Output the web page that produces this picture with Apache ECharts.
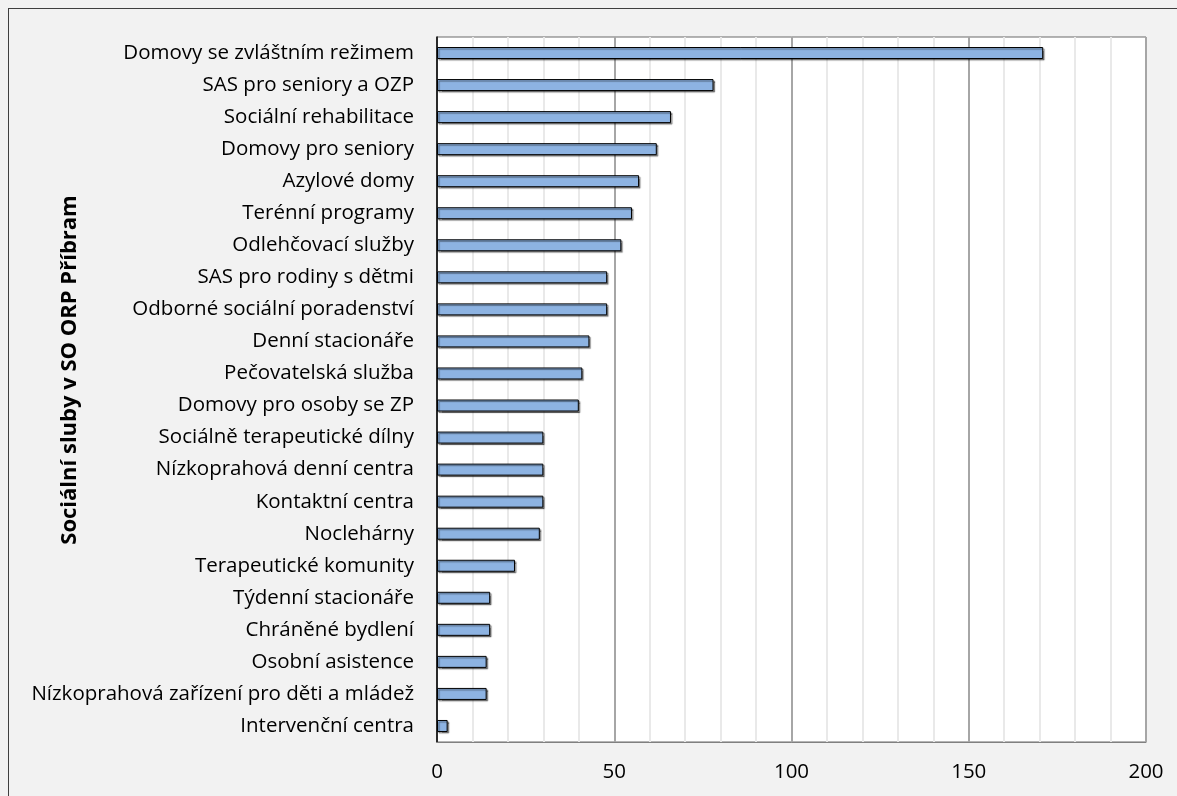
<!DOCTYPE html>
<html>
<head>
<meta charset="utf-8">
<script src="https://cdn.jsdelivr.net/npm/echarts@6/dist/echarts.min.js"></script>
<style>
  html, body { margin: 0; padding: 0; background: #f2f2f2; overflow: hidden; }
  #frame { position: absolute; left: 8px; top: 8px; width: 2000px; height: 2000px; border: 1px solid #3f3f3f; }
  #chart { position: absolute; left: 0; top: 0; width: 1177px; height: 796px; }
</style>
</head>
<body>
<div id="frame"></div>
<div id="chart"></div>
<script>
// data, top to bottom
const categories = [
  'Domovy se zvláštním režimem',
  'SAS pro seniory a OZP',
  'Sociální rehabilitace',
  'Domovy pro seniory',
  'Azylové domy',
  'Terénní programy',
  'Odlehčovací služby',
  'SAS pro rodiny s dětmi',
  'Odborné sociální poradenství',
  'Denní stacionáře',
  'Pečovatelská služba',
  'Domovy pro osoby se ZP',
  'Sociálně terapeutické dílny',
  'Nízkoprahová denní centra',
  'Kontaktní centra',
  'Noclehárny',
  'Terapeutické komunity',
  'Týdenní stacionáře',
  'Chráněné bydlení',
  'Osobní asistence',
  'Nízkoprahová zařízení pro děti a mládež',
  'Intervenční centra'
];
const values = [171, 78, 66, 62, 57, 55, 52, 48, 48, 43, 41, 40, 30, 30, 30, 29, 22, 15, 15, 14, 14, 3];
const axisTitle = 'Sociální sluby v SO ORP Příbram';
const xMin = 0, xMax = 200, xStep = 50;

const font = '"Open Sans", "Noto Sans", sans-serif';
const chart = echarts.init(document.getElementById('chart'));

chart.setOption({
  backgroundColor: 'transparent',
  animation: false,
  grid: {
    left: 437, right: 31, top: 37, bottom: 54,
    outerBoundsMode: 'none',
    show: true,
    backgroundColor: '#ffffff',
    borderColor: '#6b6b6b',
    borderWidth: 1
  },
  // rotated axis title, placed a bit above the plot's middle like the original
  graphic: [{
    type: 'text',
    x: 70, y: 370,
    rotation: Math.PI / 2,
    style: {
      text: axisTitle,
      fill: '#000',
      font: 'bold 22px "Open Sans", "Noto Sans", sans-serif',
      align: 'center',
      verticalAlign: 'middle'
    }
  }],
  xAxis: {
    type: 'value',
    min: xMin, max: xMax, interval: xStep,
    axisLine: { show: true, lineStyle: { color: '#808080', width: 1 } },
    axisTick: { show: false },
    axisLabel: { color: '#000', fontFamily: font, fontSize: 20.5, margin: 20 },
    splitLine: { show: true, lineStyle: { color: '#a6a6a6', width: 2 } },
    minorTick: { show: false, splitNumber: 5 },
    minorSplitLine: { show: true, lineStyle: { color: '#e9e9e9', width: 2 } }
  },
  yAxis: {
    type: 'category',
    data: categories,
    inverse: true,
    axisLine: { show: true, lineStyle: { color: '#000', width: 1.5 } },
    axisTick: { show: false },
    axisLabel: { color: '#000', fontFamily: font, fontSize: 20.5, margin: 23 }
  },
  series: [{
    type: 'bar',
    data: values,
    barWidth: 12,
    itemStyle: {
      color: '#8db3e2',
      borderColor: '#000',
      borderWidth: 1,
      shadowColor: 'rgba(0,0,0,0.45)',
      shadowOffsetX: 1.5,
      shadowOffsetY: 1.5,
      shadowBlur: 1
    }
  }]
});
</script>
</body>
</html>
